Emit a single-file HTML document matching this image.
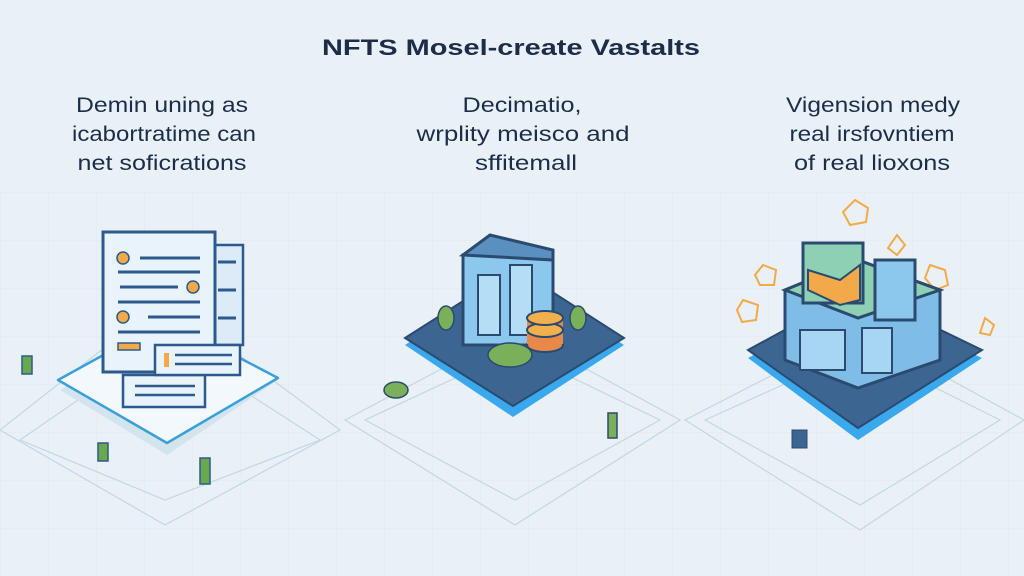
<!DOCTYPE html>
<html><head><meta charset="utf-8"><style>
html,body{margin:0;padding:0;background:#e9f1f7;}
svg{display:block;}
text{font-family:"Liberation Sans",sans-serif;fill:#1c2d4a;}
</style></head><body>
<svg width="1024" height="576" viewBox="0 0 1024 576" xmlns="http://www.w3.org/2000/svg">
<defs>
<pattern id="g" width="48" height="48" patternUnits="userSpaceOnUse">
<path d="M0 0H48M0 0V48" stroke="#dbe6ee" stroke-width="1" fill="none"/>
</pattern>
</defs>
<rect width="1024" height="576" fill="#e9f1f7"/>
<rect y="190" width="1024" height="386" fill="url(#g)" opacity="0.8"/>

<text x="511" y="55" font-size="22" font-weight="bold" text-anchor="middle" textLength="378" lengthAdjust="spacingAndGlyphs">NFTS Mosel-create Vastalts</text>

<g font-size="21" text-anchor="middle">
<text x="162" y="112" textLength="172" lengthAdjust="spacingAndGlyphs">Demin uning as</text>
<text x="164" y="141" textLength="184" lengthAdjust="spacingAndGlyphs">icabortratime can</text>
<text x="162" y="170" textLength="169" lengthAdjust="spacingAndGlyphs">net soficrations</text>
<text x="522" y="112" textLength="119" lengthAdjust="spacingAndGlyphs">Decimatio,</text>
<text x="523" y="141" textLength="213" lengthAdjust="spacingAndGlyphs">wrplity meisco and</text>
<text x="526" y="170" textLength="102" lengthAdjust="spacingAndGlyphs">sffitemall</text>
<text x="873" y="112" textLength="174" lengthAdjust="spacingAndGlyphs">Vigension medy</text>
<text x="872" y="141" textLength="165" lengthAdjust="spacingAndGlyphs">real irsfovntiem</text>
<text x="872" y="170" textLength="156" lengthAdjust="spacingAndGlyphs">of real lioxons</text>
</g>

<!-- grid diamonds -->
<g fill="none" stroke="#c4d6e4" stroke-width="1.2">
<polygon points="0,430 165,300 340,430 165,525"/>
<polygon points="20,440 165,340 320,440 165,500"/>
<polygon points="345,420 515,330 680,420 515,525"/>
<polygon points="365,420 515,350 660,420 515,500"/>
<polygon points="685,420 860,330 1024,420 860,530"/>
<polygon points="705,420 860,350 1000,420 860,505"/>
</g>

<!-- LEFT -->
<polygon points="60,390 167,330 278,380 167,455" fill="#d3e4ef"/>
<polygon points="58,380 167,320 278,378 167,443" fill="#f3f8fc" stroke="#3aa0d8" stroke-width="2.5" stroke-linejoin="round"/>
<rect x="205" y="245" width="38" height="100" fill="#dcebf7" stroke="#2d5a8c" stroke-width="2.5"/>
<rect x="103" y="232" width="112" height="140" fill="#e8f3fb" stroke="#2d5a8c" stroke-width="3"/>
<g stroke="#2d5a8c" stroke-width="3">
<line x1="140" y1="258" x2="200" y2="258"/><line x1="118" y1="272" x2="200" y2="272"/>
<line x1="120" y1="287" x2="178" y2="287"/><line x1="118" y1="302" x2="200" y2="302"/>
<line x1="148" y1="317" x2="200" y2="317"/><line x1="118" y1="332" x2="200" y2="332"/>
<line x1="218" y1="262" x2="236" y2="262"/><line x1="218" y1="290" x2="236" y2="290"/><line x1="218" y1="318" x2="236" y2="318"/>
</g>
<g fill="#f2a94a" stroke="#2d5a8c" stroke-width="1.5">
<circle cx="123" cy="258" r="6"/><circle cx="193" cy="287" r="6"/><circle cx="123" cy="317" r="6"/>
<rect x="118" y="343" width="22" height="7"/>
</g>
<rect x="123" y="375" width="82" height="32" fill="#e8f3fb" stroke="#2d5a8c" stroke-width="2.5"/>
<line x1="135" y1="386" x2="195" y2="386" stroke="#2d5a8c" stroke-width="2.5"/>
<line x1="135" y1="395" x2="195" y2="395" stroke="#2d5a8c" stroke-width="2.5"/>
<rect x="155" y="345" width="85" height="30" fill="#e8f3fb" stroke="#2d5a8c" stroke-width="2.5"/>
<line x1="175" y1="355" x2="232" y2="355" stroke="#2d5a8c" stroke-width="2.5"/>
<line x1="175" y1="364" x2="232" y2="364" stroke="#2d5a8c" stroke-width="2.5"/>
<rect x="164" y="353" width="5" height="14" fill="#f2a94a"/>
<g fill="#6aa84f" stroke="#2d5a8c" stroke-width="1.5">
<rect x="22" y="356" width="10" height="18"/><rect x="98" y="443" width="10" height="18"/><rect x="200" y="458" width="10" height="26"/>
</g>

<!-- MIDDLE -->
<polygon points="405,345 515,275 624,345 513,417" fill="#3aa8ec"/>
<polygon points="405,338 515,268 624,338 513,406" fill="#3d6591" stroke="#2a4a70" stroke-width="2"/>
<rect x="463" y="255" width="90" height="90" fill="#8cc8ee" stroke="#2a4a70" stroke-width="3"/>
<polygon points="463,255 490,235 553,250 553,260" fill="#5a8fc0" stroke="#2a4a70" stroke-width="3"/>
<rect x="478" y="275" width="22" height="60" fill="#b4def6" stroke="#2a4a70" stroke-width="2"/>
<rect x="510" y="265" width="22" height="70" fill="#b4def6" stroke="#2a4a70" stroke-width="2"/>
<g fill="#f2b04c" stroke="#2a4a70" stroke-width="2">
<ellipse cx="545" cy="345" rx="18" ry="7" fill="#e8894a"/>
<rect x="527" y="318" width="36" height="26" fill="#e8894a" stroke="none"/>
<ellipse cx="545" cy="330" rx="18" ry="7"/>
<ellipse cx="545" cy="318" rx="18" ry="7"/>
</g>
<g fill="#7ab05a" stroke="#2a4a70" stroke-width="1.5">
<ellipse cx="510" cy="355" rx="22" ry="12"/><ellipse cx="446" cy="318" rx="8" ry="12"/><ellipse cx="578" cy="318" rx="8" ry="12"/>
<ellipse cx="396" cy="390" rx="12" ry="8"/><rect x="608" y="413" width="9" height="25"/>
</g>

<!-- RIGHT -->
<g fill="none" stroke="#f2a94a" stroke-width="2">
<polygon points="855,200 868,208 866,222 850,225 843,212"/>
<polygon points="897,235 905,245 897,255 888,248"/>
<polygon points="763,265 776,270 774,285 760,285 755,275"/>
<polygon points="743,300 758,305 756,320 742,322 737,310"/>
<polygon points="930,265 945,270 948,285 935,290 925,278"/>
<polygon points="985,318 994,325 990,335 980,333"/>
</g>
<polygon points="748,358 858,300 982,358 858,440" fill="#3aa8ec"/>
<polygon points="748,350 858,290 982,350 858,428" fill="#3d6591" stroke="#2a4a70" stroke-width="2"/>
<polygon points="785,290 858,260 940,290 940,360 858,388 785,360" fill="#7fbce6" stroke="#2a4a70" stroke-width="3"/>
<polygon points="785,290 858,260 940,290 858,318" fill="#8ed0b4" stroke="#2a4a70" stroke-width="3"/>
<rect x="803" y="243" width="60" height="60" fill="#8ed0b4" stroke="#2a4a70" stroke-width="3"/>
<polygon points="808,270 840,280 860,265 860,300 840,305 808,290" fill="#f2a94a" stroke="#2a4a70" stroke-width="2"/>
<rect x="875" y="260" width="40" height="60" fill="#8cc8ee" stroke="#2a4a70" stroke-width="3"/>
<rect x="800" y="330" width="45" height="40" fill="#a6d6f2" stroke="#2a4a70" stroke-width="2"/>
<rect x="862" y="328" width="30" height="45" fill="#a6d6f2" stroke="#2a4a70" stroke-width="2"/>
<rect x="792" y="430" width="15" height="18" fill="#3d6591" stroke="#2a4a70"/>
</svg>
</body></html>
